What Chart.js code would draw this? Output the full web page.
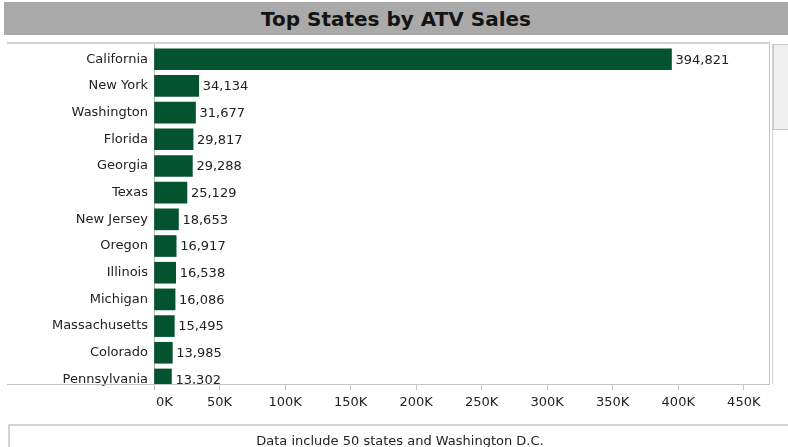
<!DOCTYPE html>
<html>
<head>
<meta charset="utf-8">
<script src="https://cdn.jsdelivr.net/npm/chart.js@4.4.1/dist/chart.umd.min.js"></script>
<style>
  html, body { margin: 0; padding: 0; background: #fff; }
  body { width: 788px; height: 447px; position: relative; overflow: hidden; font-family: "DejaVu Sans", Verdana, sans-serif; }
  #header { position: absolute; left: 4px; top: 2px; width: 784px; height: 33px; background: #aaaaaa; color: #141414;
            font: bold 20px "DejaVu Sans", sans-serif; text-align: center; line-height: 34px; }
  #wrap { position: absolute; left: 0; top: 36px; width: 770px; height: 390px; }
  #scroll { position: absolute; left: 772px; top: 44px; width: 16px; height: 340px; border-left: 1px solid #d0d0d0; }
  #thumb { position: absolute; left: 0; top: 0; width: 16px; height: 86px; background: #efefef; border: 1px solid #c8c8c8; border-right: none; box-sizing: border-box; }
  #footer { position: absolute; left: 8px; top: 424px; width: 790px; height: 40px; border: 2px solid #d4d4d4; box-sizing: border-box; }
  #note { position: absolute; left: 8px; top: 433px; width: 784px; text-align: center; font-size: 13px; color: #222; }
</style>
</head>
<body>
<div id="header">Top States by ATV Sales</div>
<div id="wrap"><canvas id="atvChart"></canvas></div>
<div id="scroll"><div id="thumb"></div></div>
<div id="footer"></div>
<div id="note">Data include 50 states and Washington D.C.</div>
<script>
const states = ["California", "New York", "Washington", "Florida", "Georgia", "Texas", "New Jersey",
  "Oregon", "Illinois", "Michigan", "Massachusetts", "Colorado", "Pennsylvania"];
const sales = [394821, 34134, 31677, 29817, 29288, 25129, 18653, 16917, 16538, 16086, 15495, 13985, 13302];
const xTickValues = [0, 50000, 100000, 150000, 200000, 250000, 300000, 350000, 400000, 450000];

// value text at the end of each bar, clipped to the plot like the view is
const valueLabels = {
  id: "valueLabels",
  afterDatasetsDraw(chart) {
    const { ctx, chartArea } = chart;
    const meta = chart.getDatasetMeta(0);
    ctx.save();
    ctx.beginPath();
    ctx.rect(chartArea.left, chartArea.top, chartArea.width, chartArea.height);
    ctx.clip();
    ctx.font = '13px "DejaVu Sans"';
    ctx.fillStyle = "#222";
    ctx.textAlign = "left";
    ctx.textBaseline = "middle";
    meta.data.forEach((bar, i) => {
      ctx.fillText(sales[i].toLocaleString("en-US"), bar.x + 4, bar.y + 1);
    });
    ctx.restore();
  }
};

// pane frame: top and bottom rules run under the row labels too
const paneFrame = {
  id: "paneFrame",
  afterDraw(chart) {
    const { ctx, chartArea } = chart;
    ctx.save();
    ctx.strokeStyle = "#d2d2d2";
    ctx.lineWidth = 2;
    ctx.beginPath();
    ctx.moveTo(7, chartArea.top - 1);
    ctx.lineTo(chartArea.right, chartArea.top - 1);
    ctx.stroke();
    ctx.lineWidth = 1;
    ctx.strokeStyle = "#c4c4c4";
    ctx.beginPath();
    ctx.moveTo(7, chartArea.bottom + 0.5);
    ctx.lineTo(chartArea.right, chartArea.bottom + 0.5);
    ctx.moveTo(chartArea.right - 0.5, chartArea.top);
    ctx.lineTo(chartArea.right - 0.5, chartArea.bottom);
    ctx.stroke();
    ctx.restore();
  }
};

new Chart(document.getElementById("atvChart").getContext("2d"), {
  type: "bar",
  data: {
    datasets: [{
      data: sales.map((v, i) => ({ x: v, y: i })),
      backgroundColor: "#02532e",
      barThickness: 21,
      clip: 0
    }]
  },
  plugins: [valueLabels, paneFrame],
  options: {
    indexAxis: "y",
    responsive: true,
    maintainAspectRatio: false,
    animation: false,
    layout: { padding: { top: 8, left: 0, right: 0, bottom: 0 } },
    plugins: {
      legend: { display: false },
      tooltip: { enabled: false }
    },
    scales: {
      x: {
        type: "linear",
        min: 0,
        max: 470000,
        afterBuildTicks: (scale) => { scale.ticks = xTickValues.map(v => ({ value: v })); },
        afterFit: (scale) => { scale.height = 42; scale.paddingLeft = 0; scale.paddingRight = 0; },
        ticks: {
          // the first label sits inside the pane, like the original
          callback: (v) => (v === 0 ? "     0K" : (v / 1000) + "K"),
          font: { family: "DejaVu Sans", size: 13 },
          color: "#222",
          padding: 5,
          maxRotation: 0,
          autoSkip: false
        },
        grid: { display: true, drawOnChartArea: false, drawTicks: true, tickLength: 6, color: "#c4c4c4" },
        border: { display: false }
      },
      y: {
        type: "linear",
        offset: false,
        reverse: true,
        min: -0.57,
        max: 12.17,
        afterBuildTicks: (scale) => { scale.ticks = states.map((s, i) => ({ value: i })); },
        afterFit: (scale) => { scale.width = 154; scale.paddingTop = 0; scale.paddingBottom = 0; },
        ticks: {
          callback: (v) => states[v],
          font: { family: "DejaVu Sans", size: 13 },
          color: "#222",
          padding: 6,
          autoSkip: false
        },
        grid: { display: false, drawTicks: false, offset: false },
        border: { display: true, color: "#bdbdbd", width: 1 }
      }
    }
  }
});
</script>
</body>
</html>
